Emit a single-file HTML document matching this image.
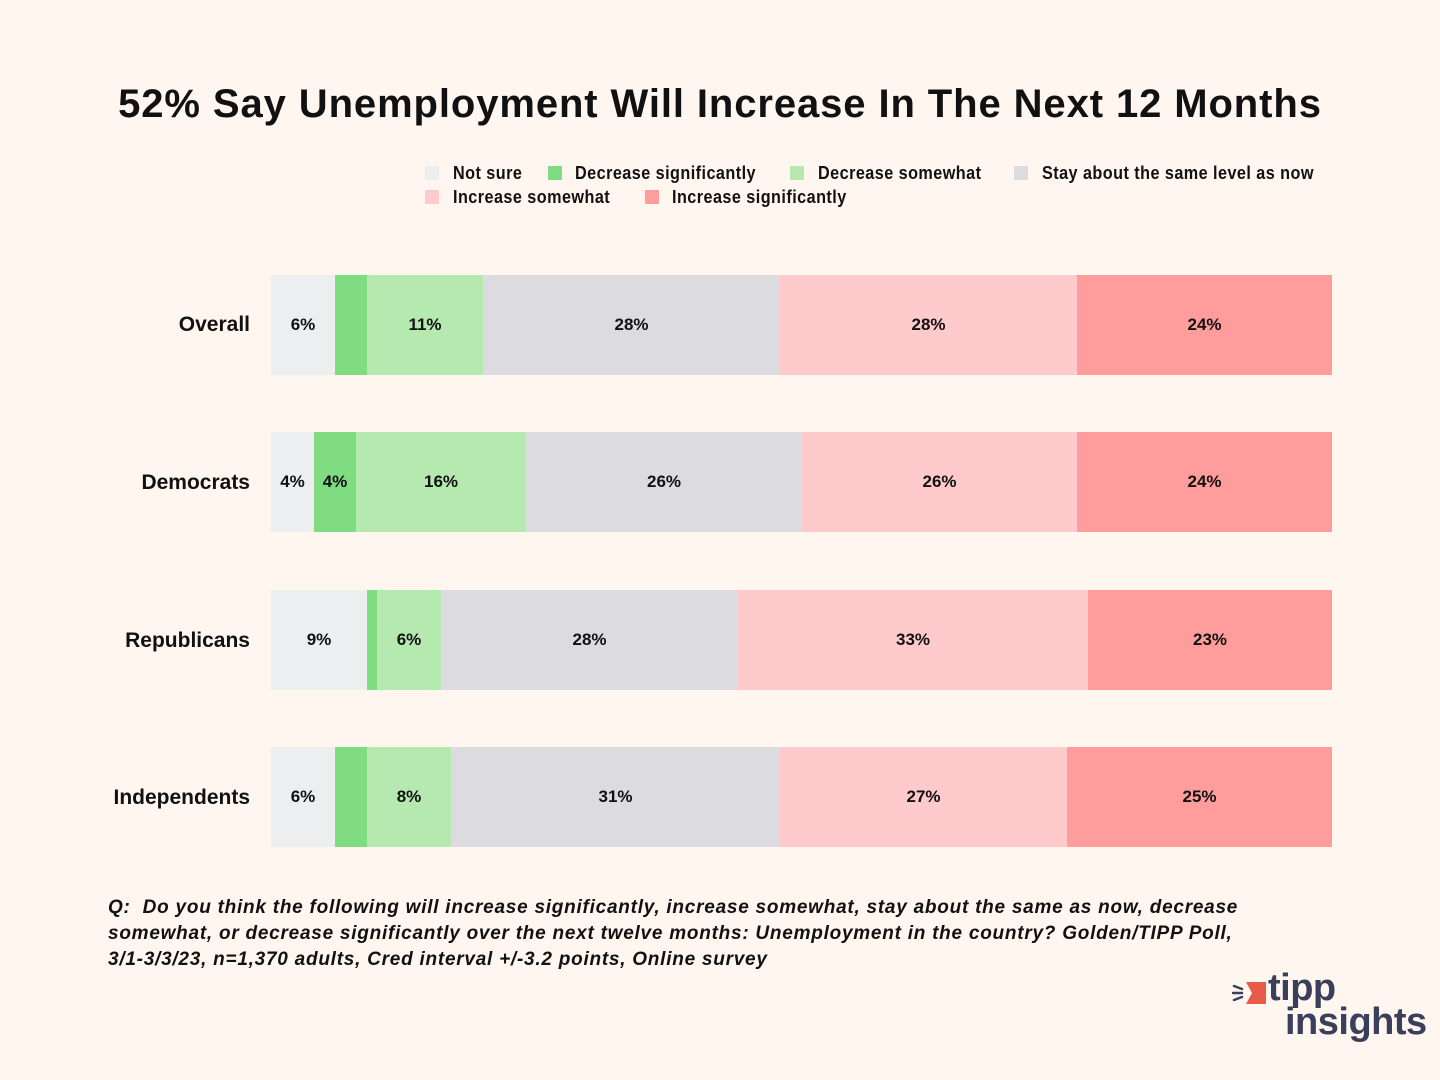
<!DOCTYPE html>
<html><head><meta charset="utf-8"><style>
body{margin:0;width:1440px;height:1080px;background:#fff6f0;font-family:"Liberation Sans",sans-serif;position:relative;overflow:hidden}
.a{position:absolute}
h1{position:absolute;left:0;width:1440px;top:82px;margin:0;text-align:center;font-size:40px;font-weight:bold;color:#111;letter-spacing:0.9px}
.lg{position:absolute;font-size:18px;color:#111;white-space:nowrap;letter-spacing:0.5px;font-weight:bold;transform:scaleX(0.9);transform-origin:left}
.sw{position:absolute;width:14px;height:14px}
.seg{position:absolute;height:100px;display:flex;align-items:center;justify-content:center;font-size:17px;font-weight:bold;color:#111}
.rl{position:absolute;right:1190px;font-size:21px;font-weight:bold;color:#111;text-align:right;white-space:nowrap}
.q{position:absolute;left:108px;top:895px;font-size:19px;font-style:italic;line-height:26px;color:#111;white-space:nowrap;letter-spacing:0.75px;font-weight:bold}
</style></head><body>
<h1>52% Say Unemployment Will Increase In The Next 12 Months</h1>

<div class="sw" style="left:425px;top:166px;background:#eceef0"></div><div class="lg" style="left:453px;top:163px">Not sure</div>
<div class="sw" style="left:548px;top:166px;background:#80dc80"></div><div class="lg" style="left:575px;top:163px">Decrease significantly</div>
<div class="sw" style="left:790px;top:166px;background:#b5e9b0"></div><div class="lg" style="left:818px;top:163px">Decrease somewhat</div>
<div class="sw" style="left:1014px;top:166px;background:#dcdce0"></div><div class="lg" style="left:1042px;top:163px">Stay about the same level as now</div>
<div class="sw" style="left:425px;top:190px;background:#ffcacb"></div><div class="lg" style="left:453px;top:187px">Increase somewhat</div>
<div class="sw" style="left:645px;top:190px;background:#ff9c9c"></div><div class="lg" style="left:672px;top:187px">Increase significantly</div>

<div class="rl" style="top:313px">Overall</div>
<div class="seg" style="top:275px;left:271px;width:64px;background:#eceef0">6%</div>
<div class="seg" style="top:275px;left:335px;width:32px;background:#80dc80"></div>
<div class="seg" style="top:275px;left:367px;width:116px;background:#b5e9b0">11%</div>
<div class="seg" style="top:275px;left:483px;width:297px;background:#dcdce0">28%</div>
<div class="seg" style="top:275px;left:780px;width:297px;background:#ffcacb">28%</div>
<div class="seg" style="top:275px;left:1077px;width:255px;background:#ff9c9c">24%</div>

<div class="rl" style="top:471px">Democrats</div>
<div class="seg" style="top:432px;left:271px;width:43px;background:#eceef0">4%</div>
<div class="seg" style="top:432px;left:314px;width:42px;background:#80dc80">4%</div>
<div class="seg" style="top:432px;left:356px;width:170px;background:#b5e9b0">16%</div>
<div class="seg" style="top:432px;left:526px;width:276px;background:#dcdce0">26%</div>
<div class="seg" style="top:432px;left:802px;width:275px;background:#ffcacb">26%</div>
<div class="seg" style="top:432px;left:1077px;width:255px;background:#ff9c9c">24%</div>

<div class="rl" style="top:629px">Republicans</div>
<div class="seg" style="top:590px;left:271px;width:96px;background:#eceef0">9%</div>
<div class="seg" style="top:590px;left:367px;width:10px;background:#80dc80"></div>
<div class="seg" style="top:590px;left:377px;width:64px;background:#b5e9b0">6%</div>
<div class="seg" style="top:590px;left:441px;width:297px;background:#dcdce0">28%</div>
<div class="seg" style="top:590px;left:738px;width:350px;background:#ffcacb">33%</div>
<div class="seg" style="top:590px;left:1088px;width:244px;background:#ff9c9c">23%</div>

<div class="rl" style="top:786px">Independents</div>
<div class="seg" style="top:747px;left:271px;width:64px;background:#eceef0">6%</div>
<div class="seg" style="top:747px;left:335px;width:32px;background:#80dc80"></div>
<div class="seg" style="top:747px;left:367px;width:84px;background:#b5e9b0">8%</div>
<div class="seg" style="top:747px;left:451px;width:329px;background:#dcdce0">31%</div>
<div class="seg" style="top:747px;left:780px;width:287px;background:#ffcacb">27%</div>
<div class="seg" style="top:747px;left:1067px;width:265px;background:#ff9c9c">25%</div>

<div class="q">Q:&nbsp; Do you think the following will increase significantly, increase somewhat, stay about the same as now, decrease<br>somewhat, or decrease significantly over the next twelve months: Unemployment in the country? Golden/TIPP Poll,<br>3/1-3/3/23, n=1,370 adults, Cred interval +/-3.2 points, Online survey</div>

<svg class="a" style="left:1232px;top:980px" width="40" height="30" viewBox="0 0 40 30">
<path d="M2 6 L10 9 M1 13 L10 13 M2 20 L10 17" stroke="#3a3f5c" stroke-width="2.5" stroke-linecap="round"/>
<polygon points="14,2 34,2 34,24 14,24 20,13" fill="#e85a4a"/>
</svg>
<div class="a" style="left:1268px;top:969px;font-size:38px;font-weight:bold;color:#3a3f5c;line-height:38px;letter-spacing:-0.5px">tipp</div>
<div class="a" style="left:1285px;top:1003px;font-size:38px;font-weight:bold;color:#3a3f5c;line-height:38px;letter-spacing:-0.5px">insights</div>
</body></html>
